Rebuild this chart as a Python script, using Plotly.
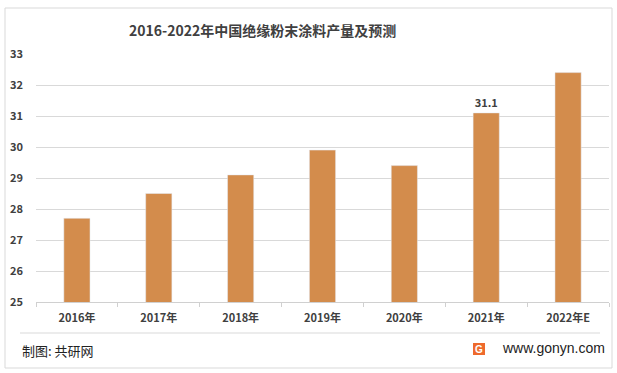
import plotly.graph_objects as go

years = ["2016年", "2017年", "2018年", "2019年", "2020年", "2021年", "2022年E"]
values = [27.7, 28.5, 29.1, 29.9, 29.4, 31.1, 32.4]
labels = ["", "", "", "", "", "31.1", ""]

W, H = 617, 373
FONT = "Noto Sans CJK SC"
GRAY = "#404040"

fig = go.Figure()
fig.add_trace(go.Bar(
    x=years, y=values, marker_color="#D38C4C", width=0.32,
    text=labels, textposition="outside", cliponaxis=False,
    textfont=dict(family=FONT, size=11, color=GRAY, weight="bold"),
))

fig.update_layout(
    width=W, height=H, margin=dict(l=36, r=8, t=54, b=71),
    paper_bgcolor="white", plot_bgcolor="white", showlegend=False,
    font=dict(family=FONT, color=GRAY),
    xaxis=dict(showgrid=False, showline=True, linecolor="#d0d0d0", linewidth=1,
               ticks="outside", ticklen=4, tickcolor="#d0d0d0", tickson="boundaries",
               ticklabelstandoff=6,
               tickfont=dict(family=FONT, size=11, color=GRAY, weight="bold"), fixedrange=True),
    yaxis=dict(range=[25, 33], dtick=1, showgrid=True, gridcolor="#d9d9d9", gridwidth=1,
               zeroline=False, showline=False, ticks="", ticklabelstandoff=12,
               tickfont=dict(family=FONT, size=11, color=GRAY, weight="bold"), fixedrange=True),
)

fig.add_shape(type="rect", xref="paper", yref="paper",
              x0=(5-36)/573, x1=(612-36)/573, y0=(302-368)/248, y1=(302-8)/248,
              line=dict(color="#d9d9d9", width=1), fillcolor="rgba(0,0,0,0)", layer="below")
fig.add_shape(type="line", xref="paper", yref="paper",
              x0=(20-36)/573, x1=(600-36)/573, y0=(302-333)/248, y1=(302-333)/248,
              line=dict(color="#d9d9d9", width=1))

fig.add_annotation(text="<b>2016-2022年中国绝缘粉末涂料产量及预测</b>", xref="paper", yref="paper",
                   x=(262-36)/573, y=(302-30)/248, showarrow=False, xanchor="center", yanchor="middle",
                   font=dict(family=FONT, size=14, color=GRAY))
fig.add_annotation(text="制图: 共研网", xref="paper", yref="paper",
                   x=(20-36)/573, y=(302-350)/248, showarrow=False, xanchor="left", yanchor="middle",
                   font=dict(family=FONT, size=13, color="#222222"))
fig.add_annotation(text="www.gonyn.com", xref="paper", yref="paper",
                   x=(607-36)/573, y=(302-348)/248, showarrow=False, xanchor="right", yanchor="middle",
                   font=dict(family="Liberation Sans", size=14, color="#222222"))
fig.add_shape(type="rect", xref="paper", yref="paper",
              x0=(473-36)/573, x1=(485-36)/573, y0=(302-355)/248, y1=(302-343)/248,
              line=dict(width=0), fillcolor="#EE6A2C")
fig.add_annotation(text="<b>G</b>", xref="paper", yref="paper",
                   x=(479-36)/573, y=(302-349)/248, showarrow=False, xanchor="center", yanchor="middle",
                   font=dict(family="Liberation Sans", size=10, color="white"))

fig.write_html("out.html")
